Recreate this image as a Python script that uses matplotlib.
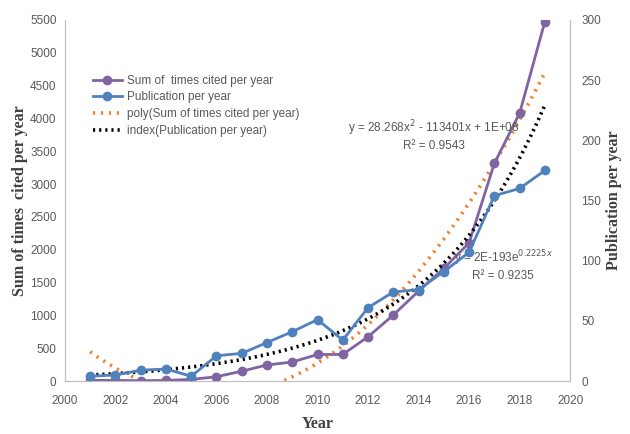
import numpy as np
import matplotlib.pyplot as plt
from matplotlib.lines import Line2D

years = np.arange(2001, 2020)
cited = [10, 10, 5, 10, 25, 65, 150, 245, 290, 405, 405, 675, 1005, 1370, 1715, 2105, 3315, 4080, 5475]
pubs = [4, 5, 9, 10, 4, 21, 23, 32, 41, 51, 34, 61, 74, 76, 91, 107, 154, 160, 175]

x_ticks = list(range(2000, 2021, 2))
left_ticks = list(range(0, 5501, 500))
right_ticks = list(range(0, 301, 50))

purple = "#8064A2"
blue = "#4F81BD"
orange = "#F07F2A"
grey = "#595959"
label_font = ["Liberation Sans", "DejaVu Sans"]

# trend lines (Excel style): quadratic for citations, exponential for publications
poly = np.polyfit(years, cited, 2)
tx = np.linspace(2001, 2019, 200)
poly_y = np.polyval(poly, tx)
poly_y = np.where(poly_y < 0, np.nan, poly_y)
b, a = np.polyfit(years, np.log(pubs), 1)
exp_y = np.exp(a + b * tx)

fig = plt.figure(figsize=(6.3, 4.34), dpi=100)
ax = fig.add_axes([0.103, 0.122, 0.802, 0.832])
ax2 = ax.twinx()

ax.plot(years, cited, color=purple, lw=2, marker="o", ms=6, zorder=3)
ax.plot(tx, poly_y, color=orange, lw=2.6, linestyle=(0, (0.6, 1.6)), zorder=2)
ax2.plot(years, pubs, color=blue, lw=2, marker="o", ms=6, zorder=3)
ax2.plot(tx, exp_y, color="black", lw=2.6, linestyle=(0, (0.6, 1.1)), zorder=2)

ax.set_xlim(2000, 2020)
ax.set_ylim(0, 5500)
ax2.set_ylim(0, 300)
ax.set_xticks(x_ticks)
ax.set_yticks(left_ticks)
ax2.set_yticks(right_ticks)

for a_ in (ax, ax2):
    a_.tick_params(length=0, colors=grey, labelsize=8.5)
    for lab in a_.get_xticklabels() + a_.get_yticklabels():
        lab.set_family(label_font)
    a_.spines["top"].set_visible(False)
    for s in ("left", "right", "bottom"):
        a_.spines[s].set_color("#BFBFBF")
ax.tick_params(axis="x", pad=10)
ax.tick_params(axis="y", pad=6)
ax2.tick_params(axis="y", pad=8)

axis_font = dict(family="Liberation Serif", weight="bold", color="#404040", fontsize=11.5)
ax.set_xlabel("Year", **axis_font)
ax.set_ylabel("Sum of times  cited per year", **axis_font)
ax2.set_ylabel("Publication per year", rotation=90, **axis_font)
ax.xaxis.set_label_coords(0.5, -0.097)
ax.yaxis.set_label_coords(-0.073, 0.5)
ax2.yaxis.set_label_coords(1.07, 0.5)

ax.text(2014.6, 3750, "y = 28.268x$^2$ - 113401x + 1E+08\nR² = 0.9543", ha="center",
        va="center", fontsize=8.5, color=grey, family=label_font, linespacing=1.25)
ax.text(2017.35, 1760, "y = 2E-193e$^{0.2225x}$\nR² = 0.9235", ha="center",
        va="center", fontsize=8.5, color=grey, family=label_font, linespacing=1.25)

handles = [
    Line2D([], [], color=purple, lw=2, marker="o", ms=6),
    Line2D([], [], color=blue, lw=2, marker="o", ms=6),
    Line2D([], [], color=orange, lw=2.6, linestyle=(0, (0.6, 1.6))),
    Line2D([], [], color="black", lw=2.6, linestyle=(0, (0.6, 1.1))),
]
labels = ["Sum of  times cited per year", "Publication per year",
          "poly(Sum of times cited per year)", "index(Publication per year)"]
leg = ax.legend(handles, labels, loc="upper left", bbox_to_anchor=(0.035, 0.878),
                frameon=False, handlelength=2.4, handletextpad=0.5, labelspacing=0.4,
                prop={"family": label_font, "size": 8.5})
for t in leg.get_texts():
    t.set_color(grey)

fig.savefig("out.png", dpi=100)
